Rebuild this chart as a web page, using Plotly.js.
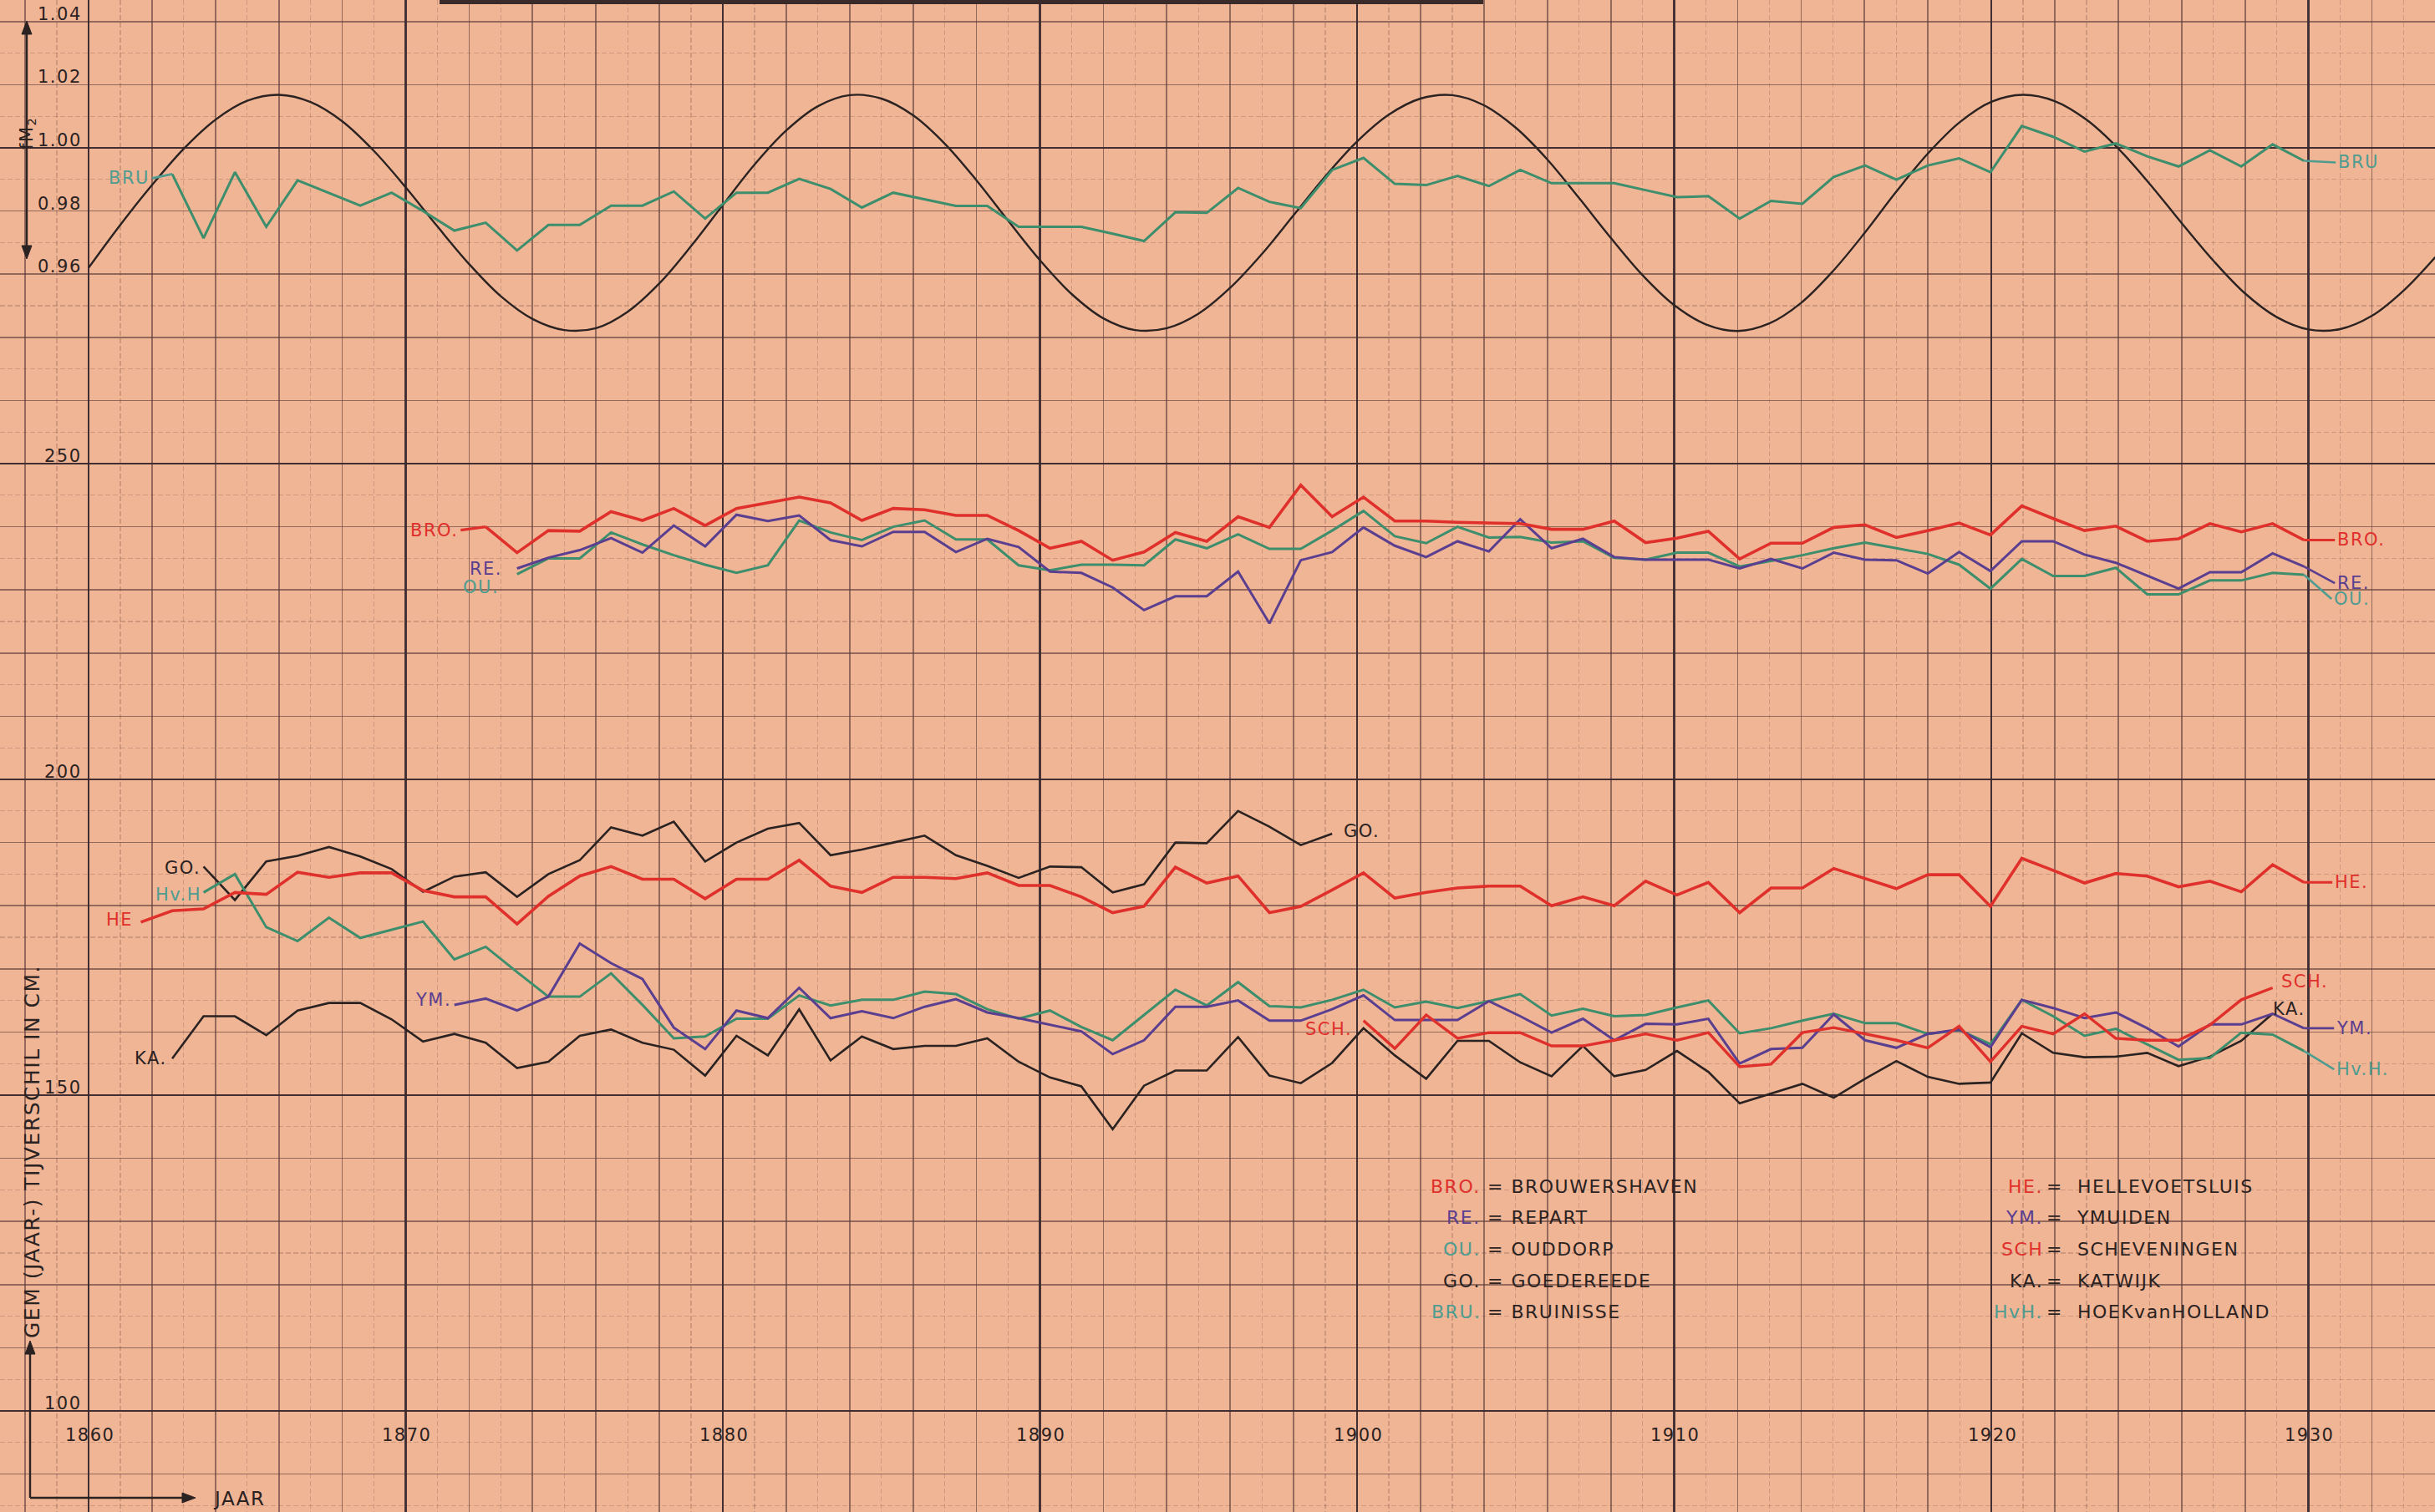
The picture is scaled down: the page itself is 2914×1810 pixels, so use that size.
<!DOCTYPE html>
<html><head><meta charset="utf-8">
<script src="https://cdn.plot.ly/plotly-3.0.1.min.js"></script>
<style>
html,body{margin:0;padding:0;background:#f0b696;}
#chart{width:2914px;height:1810px;}
.annotation-text{letter-spacing:1.5px;}
</style></head><body><div id="chart"></div><script>
// ---------------- DATA ----------------
// nodal factor f(M2) (black curve), yearly values from 1860
const SINE_START = 1860;
const sineM2 = [
 0.962,0.9756,0.9882,0.9997,1.0089,1.0149,1.0168,1.0145,1.0084,0.9990,
 0.9875,0.9751,0.9632,0.9530,0.9458,0.9423,0.9429,0.9481,0.9571,0.9689,
 0.9819,0.9947,1.0055,1.0132,1.0167,1.0156,1.0103,1.0013,0.9897,0.9769,
 0.9644,0.9537,0.9460,0.9423,0.9429,0.9475,0.9557,0.9664,0.9787,0.9910,
 1.0020,1.0105,1.0156,1.0167,1.0135,1.0064,0.9963,0.9841,0.9715,0.9597,
 0.9502,0.9441,0.9420,0.9444,0.9509,0.9609,0.9730,0.9861,0.9982,1.0081,
 1.0146,1.0168,1.0148,1.0089,0.9998,0.9885,0.9762,0.9643,0.9539,0.9464,
 0.9425,0.9426,0.9468,0.9548,0.9654];
// BRU (Bruinisse), ratio scale
const BRU_START = 1862;
const bru = [
 0.9917,0.9714,0.9923,0.9750,0.9897,0.9857,0.9817,0.9858,
 0.9800,0.9738,0.9763,0.9675,0.9756,0.9756,0.9817,0.9817,0.9862,0.9776,
 0.9858,0.9858,0.9902,0.9870,0.9811,0.9858,0.9837,0.9816,0.9816,0.9750,
 0.9750,0.9750,0.9728,0.9705,0.9796,0.9794,0.9873,0.9829,0.9809,0.9930,
 0.9968,0.9886,0.9882,0.9911,0.9879,0.9930,0.9888,0.9888,0.9888,0.9866,
 0.9844,0.9847,0.9776,0.9832,0.9823,0.9908,0.9944,0.9899,0.9944,0.9967,
 0.9923,1.0069,1.0035,0.9988,1.0014,0.9973,0.9941,0.9992,0.9941,1.0011,
 0.9959];
// tidal range in cm
const BRO_START = 1872;
const bro = [
 240.0,235.9,239.4,239.3,242.4,241.0,242.9,240.2,
 242.9,243.8,244.7,243.8,241.0,242.9,242.7,241.8,241.8,239.4,
 236.6,237.7,234.7,236.0,239.1,237.7,241.6,239.9,246.6,241.6,
 244.7,240.9,240.9,240.7,240.6,240.5,239.6,239.6,240.9,237.5,
 238.2,239.3,234.9,237.4,237.4,239.9,240.3,238.3,239.4,240.6,
 238.7,243.3,241.3,239.4,240.1,237.7,238.1,240.5,239.2,240.5,
 237.9];
const RE_START = 1873;
const re = [
 233.4,235.1,236.3,238.2,235.9,240.2,236.9,
 241.9,240.9,241.8,237.9,236.9,239.2,239.2,236.0,238.1,236.8,
 232.9,232.7,230.4,226.8,229.0,229.0,232.9,224.7,234.7,236.0,
 239.9,237.0,235.2,237.7,236.1,241.2,236.6,238.1,235.2,234.8,
 234.8,234.8,233.4,234.9,233.4,235.9,234.8,234.7,232.6,236.0,
 233.0,237.7,237.7,235.6,234.3,232.2,230.2,232.8,232.8,235.8,
 233.7];
const OU_START = 1873;
const ou = [
 232.5,235.0,235.0,239.1,237.2,235.5,234.0,
 232.7,233.9,241.0,239.1,237.9,240.0,241.0,238.0,238.0,233.9,
 233.1,234.0,234.0,233.9,238.0,236.6,238.8,236.5,236.5,239.4,
 242.5,238.5,237.4,240.0,238.3,238.4,237.5,237.7,235.1,234.8,
 235.9,235.9,233.7,234.6,235.5,236.6,237.5,236.6,235.7,234.0,
 230.2,234.9,232.2,232.2,233.5,229.3,229.3,231.5,231.5,232.7,
 232.4];
const HE_START = 1861;
const he = [
 177.4,179.2,179.5,182.1,181.8,185.3,184.5,185.2,185.2,
 182.4,181.4,181.4,177.1,181.5,184.7,186.2,184.2,184.2,181.1,
 184.2,184.2,187.2,183.1,182.1,184.5,184.5,184.3,185.2,183.2,
 183.2,181.4,178.9,179.9,186.1,183.6,184.7,178.9,179.9,182.5,
 185.2,181.2,182.1,182.8,183.1,183.1,180.0,181.4,180.0,183.9,
 181.7,183.7,178.9,182.8,182.8,185.9,184.3,182.7,184.9,184.9,
 179.9,187.5,185.6,183.6,185.1,184.7,183.0,183.9,182.2,186.5,
 183.7];
const GO_START = 1863;
const go = [
 186.2,180.9,187.0,187.9,189.3,187.8,185.8,
 182.2,184.6,185.3,181.4,185.0,187.2,192.4,191.1,193.3,187.0,
 190.0,192.2,193.1,188.0,188.9,190.0,191.1,188.0,186.3,184.4,
 186.2,186.1,182.1,183.4,190.0,189.9,195.0,192.5,189.6,191.4];
const HVH_START = 1863;
const hvh = [
 182.1,185.0,176.6,174.4,178.1,174.9,176.2,
 177.5,171.5,173.5,169.5,165.6,165.6,169.3,164.3,159.0,159.3,
 162.1,162.1,165.8,164.2,165.1,165.1,166.4,166.0,163.6,162.1,
 163.4,160.8,158.7,162.7,166.7,164.2,167.9,164.1,163.9,165.1,
 166.7,163.9,164.8,163.8,164.9,166.0,162.6,163.7,162.5,162.7,
 163.9,165.0,159.8,160.6,161.8,162.9,161.4,161.4,159.7,160.3,
 158.1,165.1,162.5,159.4,160.5,158.1,155.6,155.9,159.9,159.6,
 157.0];
const YM_START = 1871;
const ym = [
 164.3,165.3,163.4,165.6,174.0,170.9,168.4,160.7,157.3,
 163.4,162.2,167.0,162.2,163.3,162.2,164.0,165.2,163.1,162.2,
 161.2,160.1,156.5,158.7,164.0,164.0,165.0,161.8,161.8,163.6,
 165.8,161.9,161.9,161.9,164.9,162.5,159.9,162.1,158.7,161.3,
 161.2,162.1,155.0,157.3,157.5,162.8,158.7,157.5,159.7,160.4,
 157.6,165.1,163.8,162.2,163.1,160.6,157.7,161.2,161.2,162.9,
 160.6];
const SCH_START = 1900;
const sch = [
 161.8,157.4,162.7,159.0,159.9,159.9,157.8,157.8,158.7,159.7,
 158.7,159.9,154.5,154.9,159.9,160.7,159.7,158.7,157.5,160.9,
 155.3,160.9,159.7,162.9,159.0,158.7,158.7,161.1,165.1,167.0];
const KA_START = 1862;
const ka = [
 155.8,162.5,162.5,159.5,163.4,164.6,164.6,162.0,
 158.5,159.7,158.3,154.3,155.3,159.4,160.4,158.3,157.2,153.1,
 159.4,156.3,163.6,155.5,159.3,157.3,157.8,157.8,159.0,155.3,
 152.8,151.4,144.6,151.5,153.9,153.9,159.2,153.1,151.9,155.1,
 160.6,156.3,152.6,158.6,158.6,155.2,153.0,157.8,153.0,154.0,
 157.0,153.7,148.7,150.3,151.8,149.6,152.6,155.4,152.9,151.8,
 152.0,159.8,156.7,156.0,156.1,156.7,154.6,156.1,158.6,162.9];

// tick labels
const X_TICKS = [1860,1870,1880,1890,1900,1910,1920,1930];
const X_TICK_TEXT = ['1860','1870','1880','1890','1900','1910','1920','1930'];
const Y_TICKS = [250,200,150,100];
const Y_TICK_TEXT = ['250','200','150','100'];
const Y2_TICKS = [1.04,1.02,1.00,0.98,0.96];
const Y2_TICK_TEXT = ['1.04','1.02','1.00','0.98','0.96'];

// legend
const LEG_L_ABBR = ['BRO.','RE.','OU.','GO.','BRU.'];
const LEG_L_NAME = ['BROUWERSHAVEN','REPART','OUDDORP','GOEDEREEDE','BRUINISSE'];
const LEG_R_ABBR = ['HE.','YM.','SCH','KA.','HvH.'];
const LEG_R_NAME = ['HELLEVOETSLUIS','YMUIDEN','SCHEVENINGEN','KATWIJK','HOEKvanHOLLAND'];

// ---------------- STYLE ----------------
const PAPER = '#f0b595';
const RED = '#e0302c', PURPLE = '#5a3e90', GREEN = '#3d8e6c', TEAL = '#4f9c90', BLACK = '#2b2222';
const MAJ = 'rgba(55,40,45,0.9)', MED = 'rgba(90,58,56,0.62)', MIN = 'rgba(110,72,66,0.26)';
const FONT = 'DejaVu Sans';
const W = 2914, H = 1810;
const GRID_X_RANGE = [1857.207, 1933.99];
const DATA_X_RANGE = [1856.507, 1934.18];
const Y_RANGE = [84.0, 323.41];
const Y2_RANGE = [0.568, 1.04682];

function yrs(start, n){ const a=[]; for(let i=0;i<n;i++) a.push(start+i); return a; }
function line(start, vals, color, width, xa, ya, shape){
  return {type:'scatter', mode:'lines', x:yrs(start, vals.length), y:vals,
    xaxis:xa, yaxis:ya, line:{color:color, width:width, shape:shape||'linear', smoothing:1},
    hoverinfo:'skip', showlegend:false};
}

const traces = [
  {type:'scatter', x:[], y:[], xaxis:'x', yaxis:'y', showlegend:false},
  {type:'scatter', x:[], y:[], xaxis:'x3', yaxis:'y3', showlegend:false},
  line(SINE_START, sineM2, BLACK, 2.4, 'x', 'y2', 'spline'),
  line(BRU_START, bru, GREEN, 3.0, 'x2', 'y2'),
  line(OU_START, ou, GREEN, 3.0, 'x2', 'y'),
  line(RE_START, re, PURPLE, 3.0, 'x2', 'y'),
  line(BRO_START, bro, RED, 3.6, 'x2', 'y'),
  line(GO_START, go, BLACK, 2.6, 'x2', 'y'),
  line(KA_START, ka, BLACK, 2.6, 'x2', 'y'),
  line(HVH_START, hvh, GREEN, 3.0, 'x2', 'y'),
  line(YM_START, ym, PURPLE, 3.0, 'x2', 'y'),
  line(SCH_START, sch, RED, 3.4, 'x2', 'y'),
  line(HE_START, he, RED, 3.6, 'x2', 'y'),
];

const ann = [];
const TICKFONT = {family:FONT, size:21, color:BLACK};
Y2_TICKS.forEach((v,i)=>ann.push({x:100/W, xref:'paper', y:v, yref:'y2', text:Y2_TICK_TEXT[i],
  showarrow:false, xanchor:'right', yanchor:'bottom', yshift:-5, font:TICKFONT}));
Y_TICKS.forEach((v,i)=>ann.push({x:100/W, xref:'paper', y:v, yref:'y', text:Y_TICK_TEXT[i],
  showarrow:false, xanchor:'right', yanchor:'bottom', yshift:-5, font:TICKFONT}));
X_TICKS.forEach((v,i)=>ann.push({x:v, xref:'x', y:1-1718/H, yref:'paper', text:X_TICK_TEXT[i],
  showarrow:false, xanchor:'center', yanchor:'middle', xshift:1, font:TICKFONT}));

// series labels
function lab(text, color, xv, yv, ya, o){
  const a = {text:text, x:xv, y:yv, xref:'x2', yref:ya, font:{family:FONT, size:21, color:color},
    xanchor:o.xanchor, yanchor:o.yanchor||'middle', showarrow:!!o.leader};
  if(o.leader){ Object.assign(a,{ax:o.ax, ay:o.ay, axref:'pixel', ayref:'pixel', arrowhead:0,
      arrowwidth:o.w||2.6, arrowcolor:color, standoff:0, startstandoff:0, borderpad:2}); }
  else { a.xshift=o.dx||0; a.yshift=o.dy||0; }
  return a;
}
const last = a => a[a.length-1];
const lastYr = (s,a) => s + a.length - 1;
ann.push(lab('BRU', TEAL, BRU_START, bru[0], 'y2', {leader:true, ax:-24, ay:5, xanchor:'right'}));
ann.push(lab('BRU', TEAL, lastYr(BRU_START,bru), last(bru), 'y2', {leader:true, ax:38, ay:2, xanchor:'left'}));
ann.push(lab('BRO.', RED, BRO_START, bro[0], 'y', {leader:true, ax:-30, ay:4, xanchor:'right', w:3.2}));
ann.push(lab('RE.', PURPLE, RE_START, re[0], 'y', {xanchor:'right', dx:-16, dy:0}));
ann.push(lab('OU.', TEAL, OU_START, ou[0], 'y', {xanchor:'right', dx:-20, dy:-16}));
ann.push(lab('BRO.', RED, lastYr(BRO_START,bro), last(bro), 'y', {leader:true, ax:37, ay:0, xanchor:'left', w:3.2}));
ann.push(lab('RE.', PURPLE, lastYr(RE_START,re), last(re), 'y', {leader:true, ax:37, ay:20, xanchor:'left'}));
ann.push(lab('OU.', TEAL, lastYr(OU_START,ou), last(ou), 'y', {leader:true, ax:33, ay:29, xanchor:'left'}));
ann.push(lab('GO.', BLACK, GO_START, go[0], 'y', {xanchor:'right', dx:-2, dy:-2}));
ann.push(lab('Hv.H', TEAL, HVH_START, hvh[0], 'y', {xanchor:'right', dx:-1, dy:-3}));
ann.push(lab('HE', RED, HE_START, he[0], 'y', {xanchor:'right', dx:-8, dy:3}));
ann.push(lab('YM.', PURPLE, YM_START, ym[0], 'y', {xanchor:'right', dx:-2, dy:6}));
ann.push(lab('KA.', BLACK, KA_START, ka[0], 'y', {xanchor:'right', dx:-4, dy:0}));
ann.push(lab('GO.', BLACK, lastYr(GO_START,go), last(go), 'y', {xanchor:'left', dx:12, dy:3}));
ann.push(lab('HE.', RED, lastYr(HE_START,he), last(he), 'y', {leader:true, ax:34, ay:0, xanchor:'left', w:3.2}));
ann.push(lab('SCH.', RED, SCH_START, sch[0], 'y', {xanchor:'right', dx:-12, dy:-10}));
ann.push(lab('SCH.', RED, lastYr(SCH_START,sch), last(sch), 'y', {xanchor:'left', yanchor:'bottom', dx:8, dy:-6}));
ann.push(lab('KA.', BLACK, lastYr(KA_START,ka), last(ka), 'y', {xanchor:'left', yanchor:'top', dx:-2, dy:20}));
ann.push(lab('YM.', PURPLE, lastYr(YM_START,ym), last(ym), 'y', {leader:true, ax:36, ay:0, xanchor:'left'}));
ann.push(lab('Hv.H.', TEAL, lastYr(HVH_START,hvh), last(hvh), 'y', {leader:true, ax:36, ay:22, xanchor:'left'}));

// legend block
const LEG_ROWS = [1420,1457,1495,1533,1570];
const LEG_L_COL = [RED, PURPLE, TEAL, BLACK, TEAL];
const LEG_R_COL = [RED, PURPLE, RED, BLACK, TEAL];
const LEGFONT = 22;
LEG_ROWS.forEach((yy,i)=>{
  const py = 1 - yy/H;
  ann.push({x:1774/W, y:py, xref:'paper', yref:'paper', text:LEG_L_ABBR[i], showarrow:false, xanchor:'right', yanchor:'middle', font:{family:FONT,size:LEGFONT,color:LEG_L_COL[i]}});
  ann.push({x:1778/W, y:py, xref:'paper', yref:'paper', text:'= '+LEG_L_NAME[i], showarrow:false, xanchor:'left', yanchor:'middle', font:{family:FONT,size:LEGFONT,color:BLACK}});
  ann.push({x:2447/W, y:py, xref:'paper', yref:'paper', text:LEG_R_ABBR[i], showarrow:false, xanchor:'right', yanchor:'middle', font:{family:FONT,size:LEGFONT,color:LEG_R_COL[i]}});
  ann.push({x:2447/W, y:py, xref:'paper', yref:'paper', text:'=  '+LEG_R_NAME[i], showarrow:false, xanchor:'left', yanchor:'middle', font:{family:FONT,size:LEGFONT,color:BLACK}});
});

// axis titles
ann.push({x:38/W, y:1-1379/H, xref:'paper', yref:'paper', text:'GEM (JAAR-) TIJVERSCHIL IN CM.', textangle:-90,
  showarrow:false, xanchor:'center', yanchor:'middle', font:{family:FONT,size:25,color:BLACK}});
ann.push({x:286/W, y:1-1794/H, xref:'paper', yref:'paper', text:'JAAR', showarrow:false,
  xanchor:'center', yanchor:'middle', font:{family:FONT,size:23,color:BLACK}});
ann.push({x:33/W, y:1-160/H, xref:'paper', yref:'paper', text:'fM<sub>2</sub>', textangle:-90, showarrow:false,
  xanchor:'center', yanchor:'middle', font:{family:FONT,size:21,color:BLACK}});

// arrows (drawn as shapes, pixel positions converted to paper fractions)
const px = v => v/W, py = v => 1 - v/H;
function seg(x0,y0,x1,y1){ return {type:'line', xref:'paper', yref:'paper', x0:px(x0), y0:py(y0), x1:px(x1), y1:py(y1), line:{color:BLACK, width:2.4}}; }
function head(x,y,dir){
  const L=16, S=6; let p;
  if(dir==='up') p=[[x,y],[x-S,y+L],[x+S,y+L]];
  else if(dir==='down') p=[[x,y],[x-S,y-L],[x+S,y-L]];
  else p=[[x,y],[x-L,y-S],[x-L,y+S]];
  const path = 'M'+p.map(q=>px(q[0])+','+py(q[1])).join(' L')+' Z';
  return {type:'path', xref:'paper', yref:'paper', path:path, fillcolor:BLACK, line:{color:BLACK, width:1}};
}
const shapes = [
  {type:'rect', xref:'paper', yref:'paper', x0:526/W, x1:1775/W, y0:1-5/H, y1:1, fillcolor:'#3a2a2a', line:{width:0}},
  seg(32,30,32,305), head(32,25,'up'), head(32,310,'down'),
  seg(36,1612,36,1793), head(36,1605,'up'),
  seg(36,1793,226,1793), head(234,1793,'right')
];

const axBase = {showticklabels:false, ticks:'', zeroline:false, showline:false, fixedrange:true};
const layout = {
  width:W, height:H, margin:{l:0,r:0,t:0,b:0,pad:0},
  paper_bgcolor:PAPER, plot_bgcolor:PAPER, showlegend:false, hovermode:false,
  xaxis: Object.assign({}, axBase, {range:GRID_X_RANGE, showgrid:true, tick0:1860, dtick:2, gridcolor:MED, gridwidth:1.7,
    minor:{tick0:1860, dtick:1, showgrid:true, gridcolor:MIN, gridwidth:1.2, griddash:'6px,3px'}, anchor:'y'}),
  xaxis2: Object.assign({}, axBase, {range:DATA_X_RANGE, overlaying:'x', visible:false, anchor:'y'}),
  xaxis3: Object.assign({}, axBase, {range:GRID_X_RANGE, overlaying:'x', showgrid:true, tick0:1860, dtick:10, gridcolor:MAJ, gridwidth:2.6, anchor:'y3'}),
  yaxis: Object.assign({}, axBase, {range:Y_RANGE, showgrid:true, tick0:0, dtick:10, gridcolor:MED, gridwidth:1.7,
    minor:{tick0:0, dtick:5, showgrid:true, gridcolor:MIN, gridwidth:1.2, griddash:'6px,3px'}, anchor:'x'}),
  yaxis2: Object.assign({}, axBase, {range:Y2_RANGE, overlaying:'y', visible:false, anchor:'x'}),
  yaxis3: Object.assign({}, axBase, {range:Y_RANGE, overlaying:'y', showgrid:true, tick0:0, dtick:50, gridcolor:MAJ, gridwidth:2.6, anchor:'x3'}),
  annotations: ann,
  shapes: shapes
};
Plotly.newPlot('chart', traces, layout, {staticPlot:true, displayModeBar:false});
</script></body></html>
